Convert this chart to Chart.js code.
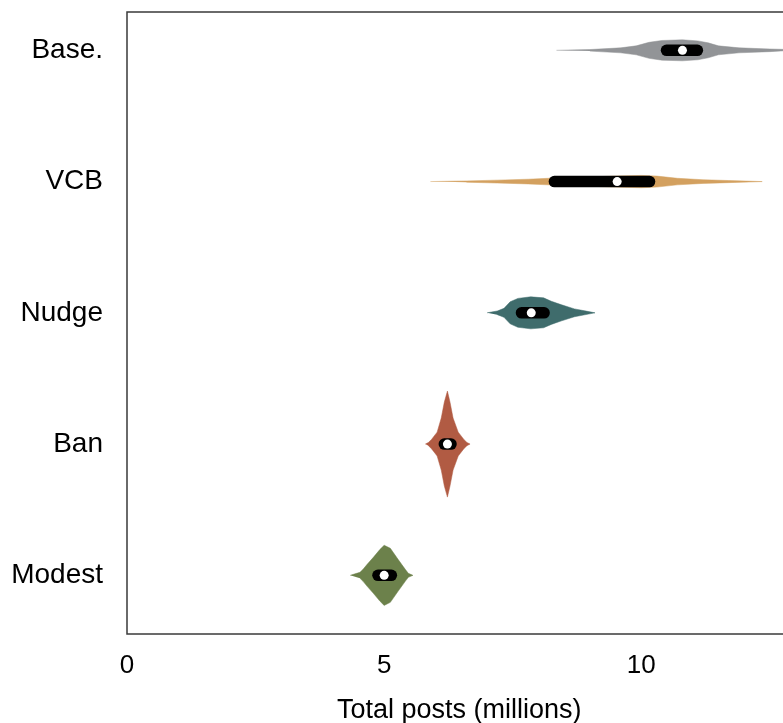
<!DOCTYPE html>
<html>
<head>
<meta charset="utf-8">
<script src="https://cdn.jsdelivr.net/npm/chart.js@4.4.1/dist/chart.umd.min.js"></script>
<style>
    html, body { margin: 0; padding: 0; overflow: hidden; background: #fff; }
    #wrap { width: 796px; height: 723px; }
</style>
</head>
<body>
<div id="wrap"><canvas id="violinChart"></canvas></div>
<script>
// Categorias (de cima para baixo)
const categories = ['Base.', 'VCB', 'Nudge', 'Ban', 'Modest'];
const xTicks = [0, 5, 10];

// Perfis dos violinos: valores em x e meia-largura (em unidades de categoria)
const baseX = [8.35, 9.0, 9.6, 9.9, 10.15, 10.4, 10.8, 11.1, 11.3, 11.5, 11.9, 12.5, 13.1];
const baseW = [0, 0.006, 0.019, 0.034, 0.061, 0.075, 0.080, 0.072, 0.057, 0.034, 0.019, 0.010, 0.004];

const vcbX = [5.9, 6.6, 7.2, 7.8, 8.3, 8.9, 9.5, 10.0, 10.3, 10.7, 11.2, 11.7, 12.35];
const vcbW = [0, 0.005, 0.011, 0.018, 0.027, 0.034, 0.042, 0.047, 0.042, 0.025, 0.014, 0.008, 0];

const nudgeX = [7.0, 7.2, 7.33, 7.45, 7.6, 7.85, 8.1, 8.25, 8.45, 8.7, 8.9, 9.1];
const nudgeW = [0, 0.014, 0.034, 0.084, 0.110, 0.122, 0.114, 0.088, 0.061, 0.030, 0.015, 0];

const banX = [5.80, 5.86, 5.92, 6.03, 6.11, 6.17, 6.23, 6.28, 6.34, 6.44, 6.55, 6.61, 6.67];
const banW = [0, 0.012, 0.035, 0.091, 0.198, 0.320, 0.404, 0.320, 0.198, 0.091, 0.035, 0.012, 0];

const modestX = [4.34, 4.53, 4.59, 4.67, 4.79, 4.92, 5.00, 5.12, 5.27, 5.41, 5.47, 5.56];
const modestW = [0, 0.023, 0.046, 0.084, 0.137, 0.198, 0.229, 0.206, 0.122, 0.046, 0.015, 0];

// Quartis e medianas (milhões)
const q1 = [10.49, 8.31, 7.67, 6.17, 4.88];
const q3 = [11.09, 10.16, 8.11, 6.30, 5.14];
const medians = [10.80, 9.53, 7.86, 6.23, 5.00];

const colors = ['#929497', '#d3a05f', '#3f6c6c', '#b15b43', '#6c814b'];

const profiles = [
    [baseX, baseW],
    [vcbX, vcbW],
    [nudgeX, nudgeW],
    [banX, banW],
    [modestX, modestW]
];

// Contorno fechado: borda de cima da esquerda para a direita, depois a de baixo de volta
function outline(xs, ws, row) {
    const top = xs.map((x, i) => ({ x: x, y: row - ws[i] }));
    const bottom = xs.map((x, i) => ({ x: x, y: row + ws[i] })).reverse().slice(1, -1);
    return top.concat(bottom);
}

const datasets = [];

// Medianas (ponto branco por cima)
datasets.push({
    data: medians.map((m, i) => ({ x: m, y: i })),
    showLine: false,
    pointRadius: 4.5,
    pointBackgroundColor: '#ffffff',
    pointBorderWidth: 0,
    order: 0
});

// Caixas (intervalo interquartil)
categories.forEach((c, i) => {
    datasets.push({
        data: [{ x: q1[i], y: i }, { x: q3[i], y: i }],
        showLine: true,
        borderColor: '#000000',
        borderWidth: 11.5,
        borderCapStyle: 'round',
        pointRadius: 0,
        order: 1
    });
});

// Violinos
profiles.forEach((p, i) => {
    datasets.push({
        data: outline(p[0], p[1], i),
        showLine: true,
        fill: 'shape',
        backgroundColor: colors[i],
        borderColor: colors[i],
        borderWidth: 0.5,
        pointRadius: 0,
        tension: 0,
        order: 2
    });
});

// Moldura da área do gráfico
const framePlugin = {
    id: 'frame',
    afterDatasetsDraw(chart) {
        const { ctx, chartArea } = chart;
        ctx.save();
        ctx.strokeStyle = '#3a3a3a';
        ctx.lineWidth = 1.5;
        ctx.strokeRect(chartArea.left, chartArea.top, chartArea.right - chartArea.left, chartArea.bottom - chartArea.top);
        ctx.restore();
    }
};

const font = "'Liberation Sans', Arial, Helvetica, sans-serif";

const ctx = document.getElementById('violinChart').getContext('2d');
const violinChart = new Chart(ctx, {
    type: 'scatter',
    data: { datasets: datasets },
    options: {
        responsive: true,
        maintainAspectRatio: false,
        animation: false,
        layout: { padding: { top: 12, right: 0, bottom: 0, left: 0 } },
        scales: {
            x: {
                type: 'linear',
                min: 0,
                max: 12.92,
                afterBuildTicks: s => { s.ticks = xTicks.map(v => ({ value: v })); },
                afterFit: s => { s.height = 89; s.paddingLeft = 0; s.paddingRight = 0; },
                grid: { display: false },
                border: { display: false },
                ticks: {
                    color: '#000',
                    font: { family: font, size: 26 },
                    padding: 8,
                    maxRotation: 0,
                    autoSkip: false
                },
                title: {
                    display: true,
                    text: 'Total posts (millions)',
                    color: '#000',
                    font: { family: font, size: 27 },
                    padding: { top: 0, bottom: -4 }
                }
            },
            y: {
                type: 'linear',
                reverse: true,
                min: -0.292,
                max: 4.447,
                afterBuildTicks: s => { s.ticks = categories.map((c, i) => ({ value: i })); },
                afterFit: s => { s.width = 127; s.paddingTop = 0; s.paddingBottom = 0; },
                grid: { display: false },
                border: { display: false },
                ticks: {
                    color: '#000',
                    font: { family: font, size: 28 },
                    padding: 16,
                    autoSkip: false,
                    callback: v => categories[v]
                }
            }
        },
        plugins: {
            legend: { display: false },
            tooltip: { enabled: false }
        }
    },
    plugins: [framePlugin]
});
</script>
</body>
</html>
